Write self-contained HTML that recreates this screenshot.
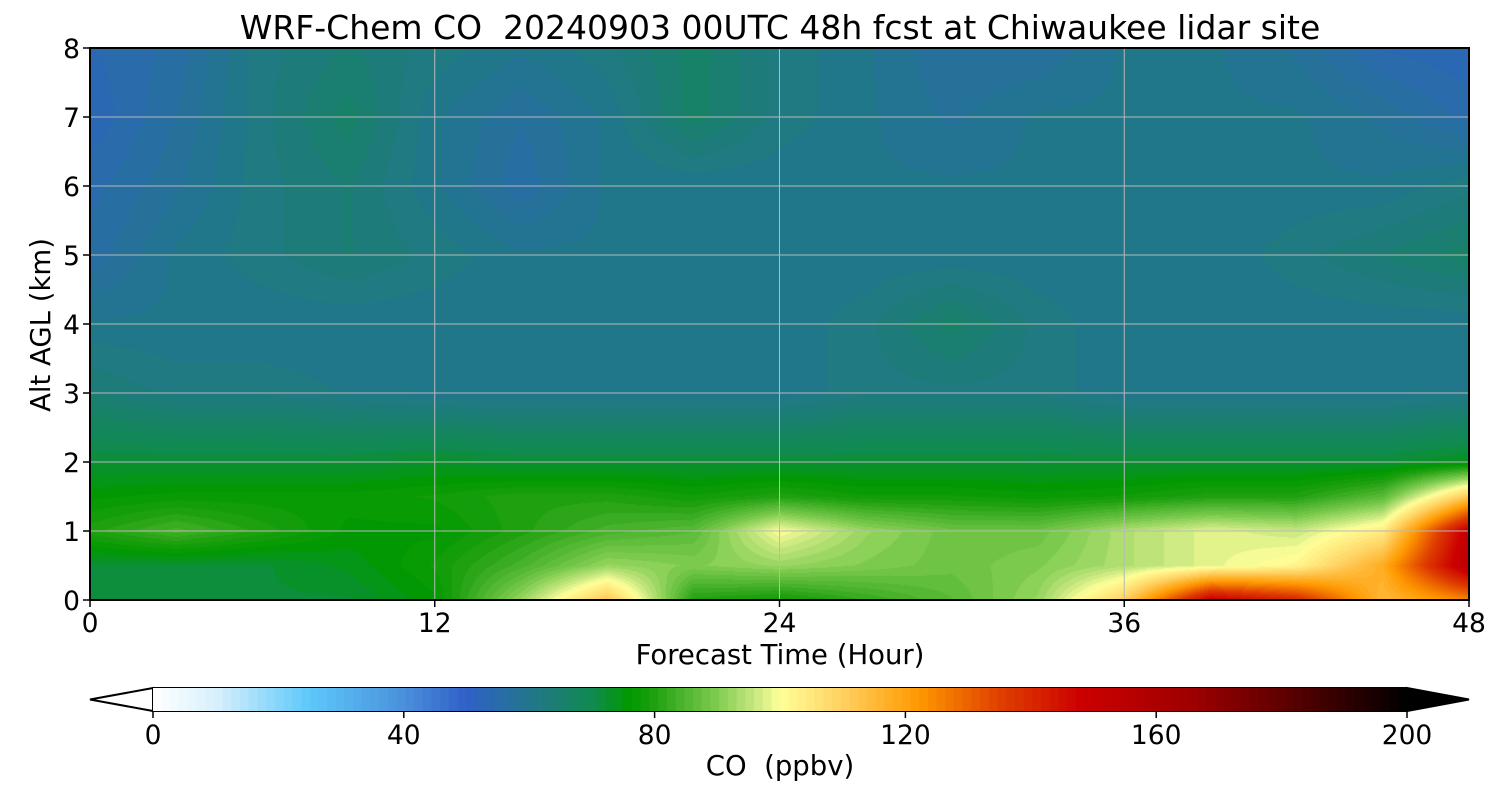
<!DOCTYPE html>
<html><head><meta charset="utf-8"><style>
body{margin:0;background:#fff;font-family:"DejaVu Sans","Liberation Sans",sans-serif}
#wrap{position:relative;width:1500px;height:800px;overflow:hidden}
.t{position:absolute;white-space:nowrap;color:#000}
</style></head><body>
<div id="wrap">
<div class="t" style="left:0;width:1560px;text-align:center;top:8px;font-size:33px">WRF-Chem CO&nbsp; 20240903 00UTC 48h fcst at Chiwaukee lidar site</div>
<canvas id="plot" width="1379" height="552" style="position:absolute;left:90px;top:48px"></canvas>
<svg id="ov" width="1500" height="800" style="position:absolute;left:0;top:0"></svg>
<div class="t" style="left:0;width:1560px;text-align:center;top:639px;font-size:27.5px">Forecast Time (Hour)</div>
<div class="t" style="left:41px;top:325px;font-size:27.5px;transform:translate(-50%,-50%) rotate(-90deg)">Alt AGL (km)</div>
<canvas id="cbar" width="1254" height="23" style="position:absolute;left:153px;top:688px"></canvas>
<div class="t" style="left:0;width:1560px;text-align:center;top:750px;font-size:27.5px">CO&nbsp; (ppbv)</div>
</div>
<script>
const times=[0,3,6,9,12,15,18,21,24,27,30,33,36,39,42,45,48];
const alts=[0,0.5,1,1.5,2,3,4,5,6,7,8];
const co=[
[72,72,72,72,76,92,112,80,78,82,86,92,110,150,140,115,125],
[72,72,72,74,78,84,92,90,92,90,88,90,94,98,102,118,155],
[80,84,80,76,76,80,84,86,100,92,88,88,94,98,96,104,152],
[76,77,77,77,78,80,80,78,80,78,78,77,78,80,80,86,112],
[72,72,72,72,73,72,72,72,72,72,72,72,72,72,72,72,74],
[64,62,62,61,60,60,60,60,60,62,62,62,60,60,60,60,61],
[60,60,60,60,60,60,60,60,60,62,66,62,60,60,60,60,60],
[56,60,62,64,62,60,60,60,60,60,60,60,60,60,62,64,66],
[55,58,62,64,60,56,60,60,60,60,60,60,60,60,60,60,62],
[53,57,62,66,60,57,60,66,62,60,58,60,60,60,60,58,55],
[54,56,62,64,62,60,62,66,62,60,57,57,60,60,58,54,53]];
const cbTicks=[0,40,80,120,160,200];
const xTicks=[0,12,24,36,48];
const yTicks=[0,1,2,3,4,5,6,7,8];
const stops=[[0,'#ffffff'],[10,'#d8f0fc'],[25,'#5cc8fa'],[40,'#4a90dc'],[50,'#3060c8'],[62,'#1f7a80'],[70,'#108a50'],[76,'#009900'],[80,'#20a010'],[90,'#80cc50'],[96,'#c8e880'],[100,'#ffff99'],[110,'#ffd060'],[122,'#ff9900'],[135,'#e04000'],[148,'#cc0000'],[165,'#a00000'],[180,'#600000'],[200,'#000000']];
const STEP=200/144;
function hex(h){return[parseInt(h.substr(1,2),16),parseInt(h.substr(3,2),16),parseInt(h.substr(5,2),16)];}
const S=stops.map(s=>[s[0],hex(s[1])]);
function cmap(v){v=Math.floor(v/STEP)*STEP+STEP/2;if(v<=0)return S[0][1];if(v>=200)return S[S.length-1][1];
for(let i=1;i<S.length;i++){if(v<=S[i][0]){const a=S[i-1],b=S[i],f=(v-a[0])/(b[0]-a[0]);return a[1].map((c,k)=>Math.round(c+(b[1][k]-c)*f));}}}
const X0=90,X1=1469,Y0=48,Y1=600;
const xs=t=>X0+(t-0)/48*(X1-X0), ys=a=>Y1-a/8*(Y1-Y0);
function interp(arr,v){let i=0;while(i<arr.length-2&&v>arr[i+1])i++;return[i,(v-arr[i])/(arr[i+1]-arr[i])];}
const pc=document.getElementById('plot'),px=pc.getContext('2d'),W=pc.width,H=pc.height,img=px.createImageData(W,H);
for(let y=0;y<H;y++){const a=8*(1-(y+0.5)/H);const[j,fy]=interp(alts,a);
 for(let x=0;x<W;x++){const t=48*(x+0.5)/W;const[i,fx]=interp(times,t);
  const v=(co[j][i]*(1-fx)+co[j][i+1]*fx)*(1-fy)+(co[j+1][i]*(1-fx)+co[j+1][i+1]*fx)*fy;
  const c=cmap(v),p=(y*W+x)*4;img.data[p]=c[0];img.data[p+1]=c[1];img.data[p+2]=c[2];img.data[p+3]=255;}}
px.putImageData(img,0,0);
const cc=document.getElementById('cbar'),cx=cc.getContext('2d');
for(let k=0;k<144;k++){const c=cmap(k*STEP+0.01);cx.fillStyle=`rgb(${c})`;cx.fillRect(k*cc.width/144,0,cc.width/144+1,23);}
const ov=document.getElementById('ov'),NS='http://www.w3.org/2000/svg';
const FF='DejaVu Sans, Liberation Sans, sans-serif';
function mk(tag,at,txt){const e=document.createElementNS(NS,tag);for(const k in at)e.setAttribute(k,at[k]);if(txt!==undefined)e.textContent=txt;ov.appendChild(e);return e;}
xTicks.forEach(t=>{const x=xs(t);
 if(t>0&&t<48){const g=mk('line',{x1:x,x2:x,y1:Y0,y2:Y1,stroke:'#b8b8b8','stroke-width':1});}
 const tk=mk('line',{x1:x,x2:x,y1:Y1,y2:Y1+7,stroke:'#000','stroke-width':1.5});
 const l=mk('text',{x:x,y:632,'text-anchor':'middle','font-size':26.5,'font-family':FF},String(t));});
yTicks.forEach(a=>{const y=ys(a);
 if(a>0&&a<8){const g=mk('line',{x1:X0,x2:X1,y1:y,y2:y,stroke:'#b8b8b8','stroke-width':1});}
 const tk=mk('line',{x1:X0-7,x2:X0,y1:y,y2:y,stroke:'#000','stroke-width':1.5});
 const l=mk('text',{x:X0-10,y:y+10,'text-anchor':'end','font-size':26.5,'font-family':FF},String(a));});
const fr=mk('rect',{x:X0,y:Y0,width:X1-X0,height:Y1-Y0,fill:'none',stroke:'#000','stroke-width':2});

const lo=mk('polygon',{points:'153,688 90,699.5 153,711',fill:'#ffffff',stroke:'#000','stroke-width':2});

const hi=mk('polygon',{points:'1407,688 1469,699.5 1407,711',fill:'#000000',stroke:'#000','stroke-width':2});

const cb1=mk('line',{x1:153,x2:1407,y1:688,y2:688,stroke:'#000','stroke-width':2});
const cb2=mk('line',{x1:153,x2:1407,y1:711,y2:711,stroke:'#000','stroke-width':2});
cbTicks.forEach(v=>{const x=153+v/200*1254;
 const tk=mk('line',{x1:x,x2:x,y1:711,y2:718,stroke:'#000','stroke-width':1.5});
 const l=mk('text',{x:x,y:744,'text-anchor':'middle','font-size':26.5,'font-family':FF},String(v));});
</script>
</body></html>
